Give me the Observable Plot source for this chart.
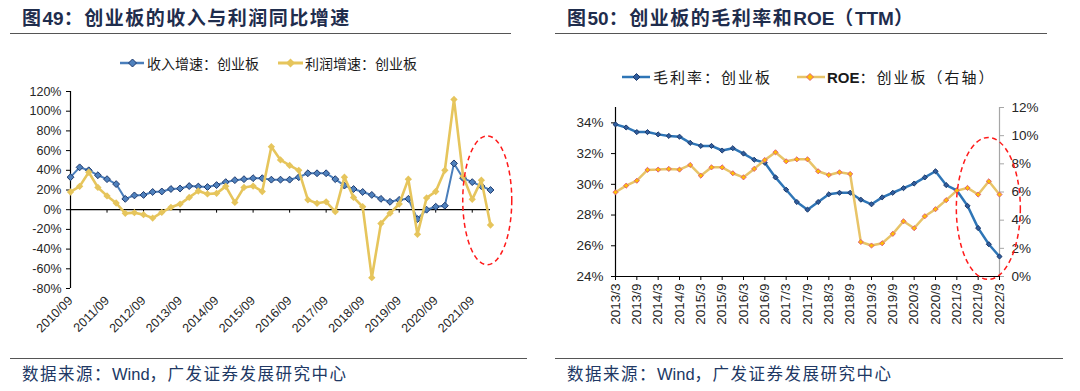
<!DOCTYPE html>
<html><head><meta charset="utf-8">
<script src="https://cdn.jsdelivr.net/npm/d3@7"></script>
<script src="https://cdn.jsdelivr.net/npm/@observablehq/plot@0.6"></script>
<style>
body{margin:0;background:#fff;width:1080px;height:391px;overflow:hidden;position:relative;font-family:"Liberation Sans",Arial,sans-serif}
.abs{position:absolute}
.title{font-family:"Noto Sans CJK SC",sans-serif;font-weight:bold;font-size:19px;line-height:19px;color:#1f2d4d;white-space:nowrap;letter-spacing:1.5px}
.title .lat{font-family:"Liberation Sans",Arial,sans-serif;font-weight:bold;letter-spacing:0}
.src{font-family:"Noto Sans CJK SC",sans-serif;font-size:16.5px;line-height:18px;color:#203864;white-space:nowrap;letter-spacing:1.5px}
.src .lat{font-family:"Liberation Sans",Arial,sans-serif;letter-spacing:0}
.hr{height:0;border-top:1px solid #555}
.leg{font-family:"Noto Sans CJK SC",sans-serif;font-size:14px;line-height:16px;color:#1a1a1a;white-space:nowrap}
.leg2{font-family:"Noto Sans CJK SC",sans-serif;font-size:15px;line-height:18px;color:#1a1a1a;white-space:nowrap;letter-spacing:2px}
.leg2 .lat{font-family:"Liberation Sans",Arial,sans-serif;font-weight:bold;letter-spacing:0}
</style>
</head><body>
<div id="left" class="abs" style="left:0;top:40px"></div>
<div id="right" class="abs" style="left:540px;top:50px"></div>

<div class="abs title" style="left:22px;top:7px">图<span class="lat">49</span>：创业板的收入与利润同比增速</div>
<div class="abs hr" style="left:10px;top:33px;width:501px"></div>
<div class="abs title" style="left:567px;top:7px">图<span class="lat">50</span>：创业板的毛利率和<span class="lat">ROE</span>（<span class="lat">TTM</span>）</div>
<div class="abs hr" style="left:555px;top:33px;width:492px"></div>

<svg class="abs" style="left:118px;top:56px" width="30" height="14"><line x1="2" y1="7" x2="26" y2="7" stroke="#4a7ebb" stroke-width="2.5"/><path d="M14.5,3 L18.5,7 L14.5,11 L10.5,7Z" fill="#4f81bd" stroke="#1f3b6e" stroke-width="1"/></svg>
<div class="abs leg" style="left:147px;top:55px">收入增速：创业板</div>
<svg class="abs" style="left:276px;top:56px" width="30" height="14"><line x1="2" y1="7" x2="27" y2="7" stroke="#e6c55c" stroke-width="3"/><path d="M14.5,2.5 L19,7 L14.5,11.5 L10,7Z" fill="#e6c55c"/></svg>
<div class="abs leg" style="left:305px;top:55px">利润增速：创业板</div>

<svg class="abs" style="left:620px;top:70px" width="32" height="14"><line x1="2" y1="7" x2="30" y2="7" stroke="#2e75b6" stroke-width="2.5"/><path d="M16.5,3.5 L20,7 L16.5,10.5 L13,7Z" fill="#2f5d9e" stroke="#1c3a6b" stroke-width="1"/></svg>
<div class="abs leg2" style="left:653px;top:68px">毛利率：创业板</div>
<svg class="abs" style="left:795px;top:70px" width="32" height="14"><line x1="2" y1="7" x2="30" y2="7" stroke="#e8c468" stroke-width="2.5"/><path d="M15,3.5 L18.5,7 L15,10.5 L11.5,7Z" fill="#ffc000" stroke="#e0607a" stroke-width="1"/></svg>
<div class="abs leg2" style="left:827px;top:68px"><span class="lat">ROE</span>：创业板（右轴）</div>

<div class="abs hr" style="left:10px;top:358px;width:517px"></div>
<div class="abs src" style="left:22px;top:364px">数据来源：<span class="lat">Wind</span>，广发证券发展研究中心</div>
<div class="abs hr" style="left:555px;top:358px;width:508px"></div>
<div class="abs src" style="left:567px;top:364px">数据来源：<span class="lat">Wind</span>，广发证券发展研究中心</div>

<script>
// ---------- Left chart data (quarterly, 2010/09 .. 2022/03) ----------
const xLabelsL = ["2010/09","2011/09","2012/09","2013/09","2014/09","2015/09","2016/09","2017/09","2018/09","2019/09","2020/09","2021/09"];
const revenueGrowth = [33,43,40,35,31,26,11,14.5,15,18,18.5,21,21.5,24,23.5,23,25,28,30,31,32,32,30.5,30.5,30.5,33,37,37,37,31,24.5,21,18,15,11,8,10,11,-9.5,0,3,4,47,32,28,24,20];
const profitGrowth = [18,23.7,38,22.6,14,6.8,-3.7,-3,-5,-8.5,-2.7,2.4,5.7,12.5,19,16,16.6,23.7,7.4,22.6,24,18.5,64,50.5,45,40,10,6.5,8,-2,33,12.5,3,-69,-14,-3.5,5.8,31,-25,12,18.5,40,112,34,10.5,30,-15.5];
const yTicksL = [-80,-60,-40,-20,0,20,40,60,80,100,120];

// ---------- Right chart data (quarterly, 2013/3 .. 2022/3) ----------
const xLabelsR = ["2013/3","2013/9","2014/3","2014/9","2015/3","2015/9","2016/3","2016/9","2017/3","2017/9","2018/3","2018/9","2019/3","2019/9","2020/3","2020/9","2021/3","2021/9","2022/3"];
const grossMargin = [33.9,33.7,33.4,33.4,33.25,33.15,33.1,32.7,32.5,32.5,32.2,32.35,32.0,31.6,31.4,30.45,29.65,28.85,28.35,28.85,29.35,29.45,29.45,29.0,28.7,29.15,29.45,29.75,30.05,30.45,30.85,29.95,29.6,28.6,27.15,26.1,25.3];
const roe = [5.98,6.45,6.8,7.57,7.59,7.64,7.59,7.92,7.16,7.75,7.75,7.33,7.04,7.64,8.27,8.82,8.18,8.32,8.32,7.47,7.21,7.4,7.28,2.45,2.2,2.36,3.03,3.92,3.43,4.28,4.78,5.42,6.1,6.29,5.82,6.76,5.82];
const yTicksR1 = [24,26,28,30,32,34];
const yTicksR2 = [0,2,4,6,8,10,12];

const idx = (d, i) => i;
const val = d => d;

// ---------- Left chart ----------
const xTickIdxL = xLabelsL.map((_, k) => k * 4);
const leftPlot = Plot.plot({
  width: 540, height: 340,
  marginLeft: 70, marginRight: 50, marginTop: 51, marginBottom: 92,
  x: {domain: [0, 46], axis: null},
  y: {domain: [-80, 120], axis: null},
  style: {fontFamily: "Liberation Sans, Arial, sans-serif", fontSize: "12.5px", color: "#262626", background: "transparent", overflow: "visible"},
  marks: [
    Plot.axisY({ticks: yTicksL, tickFormat: d => d + "%", tickSize: 4, tickPadding: 5, fontSize: 12.5, stroke: "#000"}),
    Plot.axisX({ticks: xTickIdxL, tickFormat: i => xLabelsL[i / 4], tickRotate: -45, tickSize: 0, tickPadding: 10, fontSize: 12.5}),
    Plot.ruleX([0], {stroke: "#000", strokeWidth: 1.2}),
    Plot.ruleY([0], {stroke: "#000", strokeWidth: 1.2}),
    Plot.ruleX(xTickIdxL, {x: d => d, y1: 0, y2: -3.5, stroke: "#000"}),
    Plot.line(revenueGrowth, {x: idx, y: val, stroke: "#4a7ebb", strokeWidth: 2}),
    Plot.dot(revenueGrowth, {x: idx, y: val, symbol: "diamond2", r: 3.1, fill: "#4f81bd", stroke: "#1f3b6e", strokeWidth: 1}),
    Plot.line(profitGrowth, {x: idx, y: val, stroke: "#e6c55c", strokeWidth: 2.6}),
    Plot.dot(profitGrowth, {x: idx, y: val, symbol: "diamond2", r: 3.3, fill: "#e6c55c"})
  ]
});
document.getElementById("left").appendChild(leftPlot);

// ---------- Right chart ----------
const toLeft = r => 24 + r * 11 / 12;
const fromLeft = v => (v - 24) * 12 / 11;
const xTickIdxR = xLabelsR.map((_, k) => k * 2);
const rightPlot = Plot.plot({
  width: 540, height: 290,
  marginLeft: 75, marginRight: 81, marginTop: 57, marginBottom: 64,
  x: {domain: [0, 36], axis: null},
  y: {domain: [24, 35], axis: null},
  style: {fontFamily: "Liberation Sans, Arial, sans-serif", fontSize: "13.5px", color: "#262626", background: "transparent", overflow: "visible"},
  marks: [
    Plot.axisY({ticks: yTicksR1, tickFormat: d => d + "%", tickSize: 4, tickPadding: 8, fontSize: 13.5, stroke: "#000"}),
    Plot.axisY({anchor: "right", ticks: yTicksR2.map(toLeft), tickFormat: v => Math.round(fromLeft(v)) + "%", tickSize: 4, tickPadding: 8, fontSize: 13.5, stroke: "#a6a6a6"}),
    Plot.axisX({ticks: xTickIdxR, tickFormat: i => xLabelsR[i / 2], tickRotate: -90, tickSize: 4, tickPadding: 3, fontSize: 13.5, stroke: "#000"}),
    Plot.ruleX([0], {stroke: "#000", strokeWidth: 1.2}),
    Plot.ruleX([36], {stroke: "#a6a6a6", strokeWidth: 1.2}),
    Plot.ruleY([24], {stroke: "#000", strokeWidth: 1.2}),
    Plot.line(grossMargin, {x: idx, y: val, stroke: "#2e75b6", strokeWidth: 2.5}),
    Plot.dot(grossMargin, {x: idx, y: val, symbol: "diamond2", r: 2.3, fill: "#2f5d9e", stroke: "#1c3a6b", strokeWidth: 1}),
    Plot.line(roe, {x: idx, y: d => toLeft(d), stroke: "#e8c468", strokeWidth: 2.5}),
    Plot.dot(roe, {x: idx, y: d => toLeft(d), symbol: "diamond2", r: 2.3, fill: "#ffc000", stroke: "#e0607a", strokeWidth: 1})
  ]
});
document.getElementById("right").appendChild(rightPlot);

// ---------- Red dashed highlight ellipses (annotations placed via Plot scales) ----------
function addEllipse(plot, cx, cy, rx, ry) {
  const sx = plot.scale("x"), sy = plot.scale("y");
  d3.select(plot).append("ellipse")
    .attr("cx", sx.apply(cx)).attr("cy", sy.apply(cy))
    .attr("rx", rx).attr("ry", ry)
    .attr("fill", "none").attr("stroke", "#ff1a1a").attr("stroke-width", 1.5)
    .attr("stroke-dasharray", "5,3.5");
}
addEllipse(leftPlot, 45.7, 9, 24.5, 64.5);
addEllipse(rightPlot, 35.0, 28.4, 32, 71);
</script>
</body></html>
